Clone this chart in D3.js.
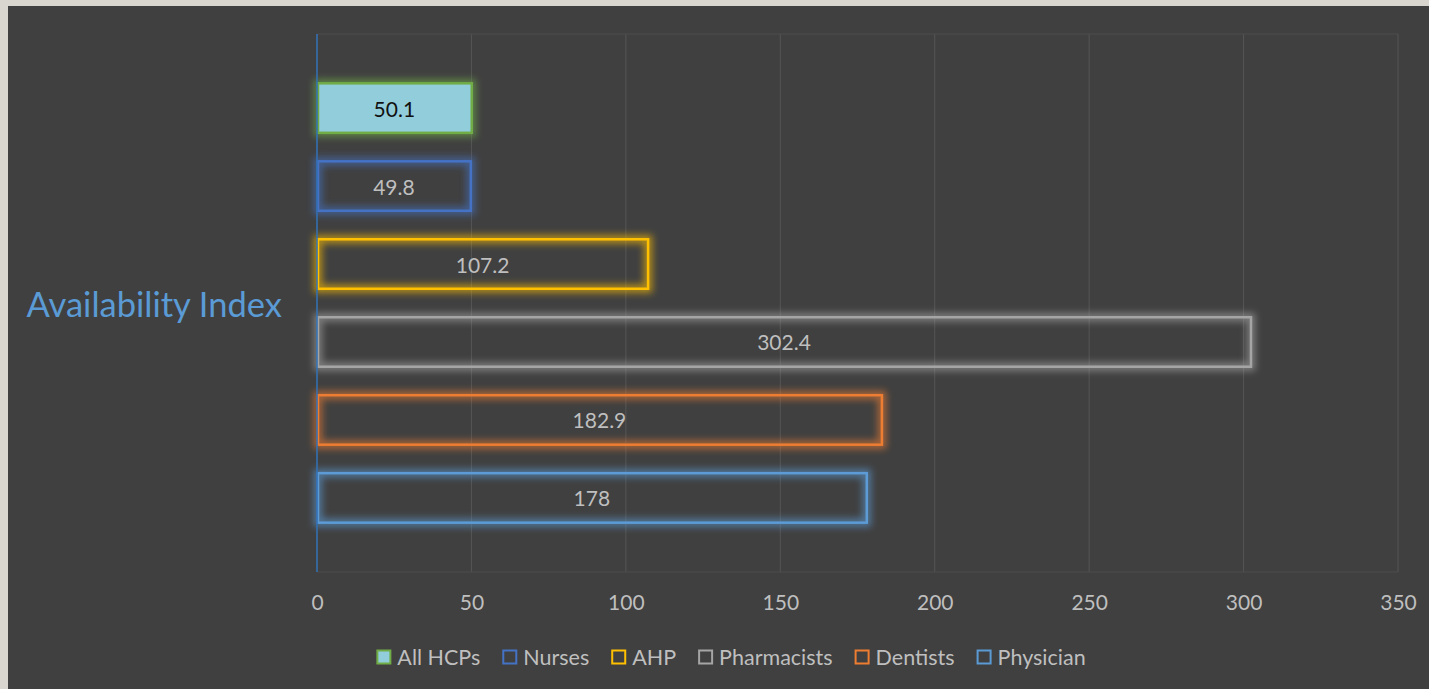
<!DOCTYPE html>
<html>
<head>
  <meta charset="utf-8">
  <title>Availability Index</title>
  <script src="https://d3js.org/d3.v7.min.js"></script>
  <style>
    html, body {
      margin: 0;
      padding: 0;
      background: #d9d5cf;
    }
    * {
      font-family: Lato, "Open Sans", sans-serif;
    }
    .tick text {
      fill: #bfbfbf;
      font-size: 21px;
    }
    .label {
      font-size: 21px;
      text-anchor: middle;
      dominant-baseline: central;
    }
    .legend text {
      fill: #bfbfbf;
      font-size: 21.5px;
      dominant-baseline: central;
    }
  </style>
</head>
<body>
  <script>
    // data
    const category = "Availability Index";
    const seriesNames = ["All HCPs", "Nurses", "AHP", "Pharmacists", "Dentists", "Physician"];
    const seriesValues = [50.1, 49.8, 107.2, 302.4, 182.9, 178];
    const xTicks = [0, 50, 100, 150, 200, 250, 300, 350];

    const strokeColors = ["#70ad47", "#4472c4", "#ffc000", "#a5a5a5", "#ed7d31", "#5b9bd5"];
    const fillColors = ["#92cddc", "none", "none", "none", "none", "none"];
    const labelColors = ["#111111", "#bfbfbf", "#bfbfbf", "#bfbfbf", "#bfbfbf", "#bfbfbf"];

    const W = 1429, H = 689;
    const margin = {top: 34, right: 31, bottom: 117, left: 317};
    const width = W - margin.left - margin.right,
          height = H - margin.top - margin.bottom;

    const svg = d3.select("body").append("svg")
      .attr("width", W)
      .attr("height", H)
      .style("display", "block");

    // dark chart area
    svg.append("rect")
      .attr("x", 8).attr("y", 6)
      .attr("width", W - 8).attr("height", H - 6)
      .attr("fill", "#404040");

    // glow filters, one per series colour
    const defs = svg.append("defs");
    strokeColors.forEach((c, i) => {
      const f = defs.append("filter")
        .attr("id", "glow" + i)
        .attr("x", "-10%").attr("y", "-40%")
        .attr("width", "120%").attr("height", "180%");
      f.append("feMorphology")
        .attr("in", "SourceAlpha").attr("operator", "dilate").attr("radius", 3)
        .attr("result", "thick");
      f.append("feFlood").attr("flood-color", c).attr("flood-opacity", 0.6);
      f.append("feComposite").attr("in2", "thick").attr("operator", "in");
      f.append("feGaussianBlur").attr("stdDeviation", 3.5).attr("result", "glow");
      const m = f.append("feMerge");
      m.append("feMergeNode").attr("in", "glow");
      m.append("feMergeNode").attr("in", "SourceGraphic");
    });

    const g = svg.append("g")
      .attr("transform", "translate(" + margin.left + "," + margin.top + ")");

    const x = d3.scaleLinear()
      .domain([0, 350])
      .range([0, width]);

    const y0 = d3.scaleBand()
      .domain([category])
      .range([0, height])
      .paddingOuter(0.075);

    const y1 = d3.scaleBand()
      .domain(seriesNames)
      .range([y0(category), y0(category) + y0.bandwidth()])
      .paddingInner(1 / 3)
      .paddingOuter(1 / 6);

    // gridlines
    g.append("g")
      .selectAll("line")
      .data(xTicks)
      .join("line")
      .attr("x1", d => x(d)).attr("x2", d => x(d))
      .attr("y1", 0).attr("y2", height)
      .attr("stroke", "#555555")
      .attr("stroke-width", 1);
    g.append("g")
      .selectAll("line")
      .data([0, height])
      .join("line")
      .attr("x1", 0).attr("x2", width)
      .attr("y1", d => d).attr("y2", d => d)
      .attr("stroke", "#4d4d4d")
      .attr("stroke-width", 1);

    // x axis labels
    const xAxis = g.append("g")
      .attr("transform", "translate(0," + height + ")")
      .call(d3.axisBottom(x).tickValues(xTicks).tickSize(0).tickPadding(23));
    xAxis.select(".domain").remove();

    // bars
    const data = seriesNames.map((name, i) => ({name: name, value: seriesValues[i], i: i}));
    const sw = 2.5;

    g.selectAll(".bar")
      .data(data)
      .join("rect")
      .attr("class", "bar")
      .attr("x", x(0) + 1)
      .attr("y", d => y1(d.name) + sw / 2)
      .attr("width", d => x(d.value) - x(0) - 1)
      .attr("height", y1.bandwidth() - sw)
      .attr("fill", d => fillColors[d.i])
      .attr("stroke", d => strokeColors[d.i])
      .attr("stroke-width", sw)
      .attr("filter", d => "url(#glow" + d.i + ")");

    g.selectAll(".label")
      .data(data)
      .join("text")
      .attr("class", "label")
      .attr("x", d => x(d.value / 2))
      .attr("y", d => y1(d.name) + y1.bandwidth() / 2)
      .attr("fill", d => labelColors[d.i])
      .text(d => d.value);

    // value axis line (left)
    g.append("line")
      .attr("x1", 0).attr("x2", 0)
      .attr("y1", 0).attr("y2", height)
      .attr("stroke", "#2f6fb5")
      .attr("stroke-width", 1.5);

    // category label
    g.append("text")
      .attr("x", -35)
      .attr("y", y0(category) + y0.bandwidth() / 2)
      .attr("text-anchor", "end")
      .attr("dominant-baseline", "central")
      .attr("fill", "#5b9bd5")
      .style("font-size", "34.5px")
      .text(category);

    // legend
    const legend = svg.append("g").attr("class", "legend");
    const box = 15, gapBox = 6, gapItem = 22;
    const items = legend.selectAll("g")
      .data(data)
      .join("g");
    items.append("rect")
      .attr("width", box - 2).attr("height", box - 2)
      .attr("x", 1).attr("y", -box / 2 + 1)
      .attr("fill", d => d.i === 0 ? fillColors[0] : "none")
      .attr("stroke", d => strokeColors[d.i])
      .attr("stroke-width", 2);
    items.append("text")
      .attr("x", box + gapBox)
      .attr("y", 0)
      .text(d => d.name);

    let widths = [];
    items.each(function(d) {
      widths.push(box + gapBox + this.querySelector("text").getComputedTextLength());
    });
    const total = d3.sum(widths) + gapItem * (widths.length - 1);
    let cx = 731 - total / 2;
    items.each(function(d, i) {
      d3.select(this).attr("transform", "translate(" + cx + ",657)");
      cx += widths[i] + gapItem;
    });
  </script>
</body>
</html>
